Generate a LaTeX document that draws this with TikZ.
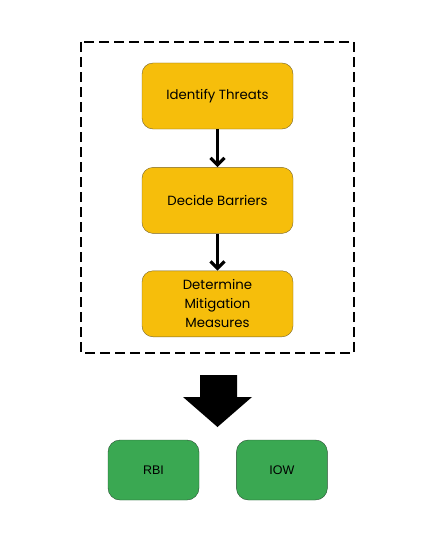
\documentclass[tikz,border=0pt]{standalone}
\usepackage{fontspec}
\usepackage{tikz}
\usetikzlibrary{
  arrows.meta,
  positioning
}
\newfontfamily\stepfont{Poppins}
\newfontfamily\outfont{Liberation Sans}
\definecolor{StepYellow}{RGB}{246,190,11}
\definecolor{StepEdge}{RGB}{120,100,40}
\definecolor{OutGreen}{RGB}{58,168,82}
\definecolor{OutEdge}{RGB}{40,80,50}
\tikzset{
  stepbox/.style={draw=StepEdge,fill=StepYellow,rounded corners=11pt,minimum height=66pt,minimum width=151pt,align=center,font=\stepfont\fontsize{13.3}{19}\selectfont,inner sep=0pt},
  outbox/.style={draw=OutEdge,fill=OutGreen,rounded corners=12pt,minimum height=60pt,minimum width=91pt,align=center,font=\outfont\fontsize{12.5}{14}\selectfont,inner sep=0pt},
  flowarrow/.style={-{Straight Barb[length=7pt,width=14pt]},line width=3.2pt,draw=black},
  groupframe/.style={draw=black,line width=2pt,dash pattern=on 10pt off 5pt}
}
\begin{document}
\begin{tikzpicture}[x=1pt,y=-1pt]
\useasboundingbox (0,0) rectangle (435,543);
\node[stepbox] (threats) at (217.5,96) {Identify Threats};
\node[stepbox, below=38pt of threats] (barriers) {Decide Barriers};
\node[stepbox, below=37pt of barriers] (measures) {Determine\\Mitigation\\Measures};
\draw[groupframe] (81,42) rectangle (354,353);
\draw[flowarrow] (threats) -- (barriers);
\draw[flowarrow] (barriers) -- (measures);
% big arrow down to outputs
\fill[black] (200,375) -- (237,375) -- (237,397) -- (252,397) -- (217.5,427)
  -- (183,397) -- (200,397) -- cycle;
\node[outbox] (rbi) at (153.5,470) {RBI};
\node[outbox, right=37pt of rbi] (iow) {IOW};
\end{tikzpicture}
\end{document}
